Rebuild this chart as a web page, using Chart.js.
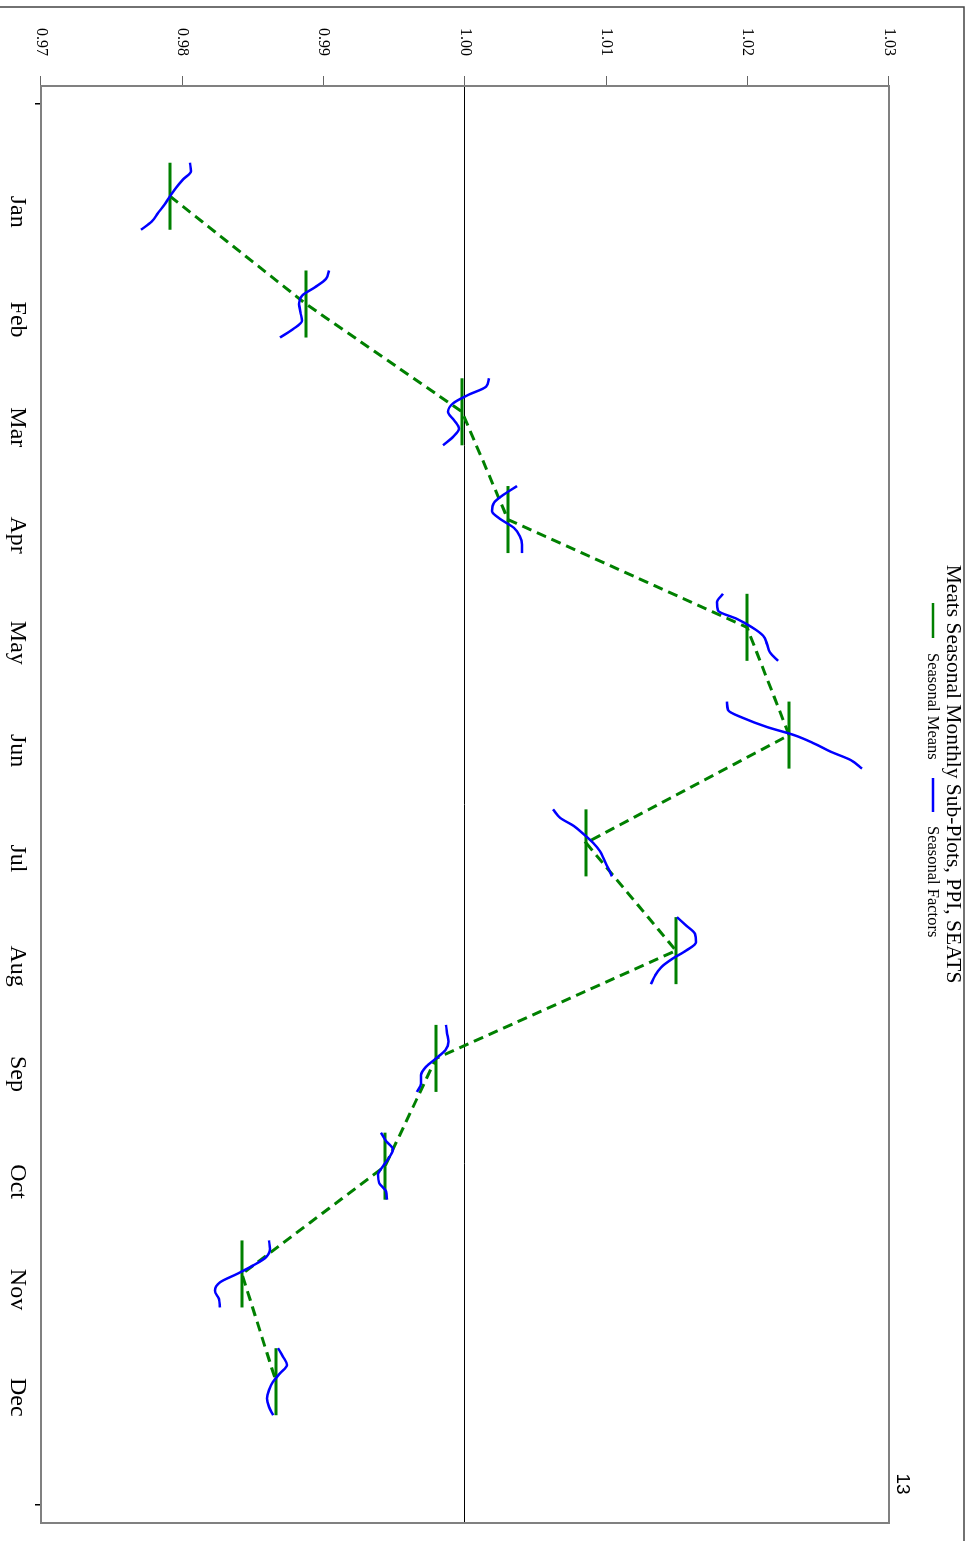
<!DOCTYPE html>
<html>
<head>
<meta charset="utf-8">
<script src="https://cdn.jsdelivr.net/npm/chart.js@4.4.1/dist/chart.umd.min.js"></script>
<style>
  html, body { margin: 0; padding: 0; background: #fff; overflow: hidden; }
  #page {
    position: absolute; left: 0; top: 0;
    width: 1541px; height: 976px;
    transform-origin: 0 0;
    transform: translateX(976px) rotate(90deg);
  }
</style>
</head>
<body>
<div id="page"><canvas id="chart" width="1541" height="976"></canvas></div>
<script>
// months and values
const months = ['Jan', 'Feb', 'Mar', 'Apr', 'May', 'Jun', 'Jul', 'Aug', 'Sep', 'Oct', 'Nov', 'Dec'];
const seasonalMeans = [0.97913, 0.98875, 0.99979, 1.00304, 1.01995, 1.02293, 1.00856, 1.01493, 0.99795, 0.99434, 0.98422, 0.98663];
const seasonalFactors = [
    [0.98054, 0.98061, 0.98005, 0.97955, 0.97913, 0.97874, 0.97828, 0.97785, 0.97708],
    [0.99038, 0.99017, 0.98939, 0.98847, 0.98826, 0.98836, 0.98847, 0.98783, 0.98691],
    [1.00170, 1.00149, 1.00021, 0.99915, 0.99880, 0.99922, 0.99958, 0.99915, 0.99844],
    [1.00368, 1.00276, 1.00205, 1.00191, 1.00255, 1.00347, 1.00389, 1.00403, 1.00403],
    [1.01826, 1.01783, 1.01790, 1.01925, 1.02031, 1.02109, 1.02137, 1.02158, 1.02215],
    [1.01854, 1.01861, 1.01974, 1.02130, 1.02328, 1.02470, 1.02590, 1.02731, 1.02809],
    [1.00623, 1.00672, 1.00771, 1.00842, 1.00906, 1.00955, 1.00984, 1.01012, 1.01040],
    [1.01500, 1.01564, 1.01627, 1.01634, 1.01564, 1.01465, 1.01387, 1.01344, 1.01316],
    [0.99866, 0.99873, 0.99883, 0.99862, 0.99795, 0.99724, 0.99689, 0.99689, 0.99660],
    [0.99406, 0.99441, 0.99491, 0.99462, 0.99420, 0.99385, 0.99392, 0.99441, 0.99448],
    [0.98613, 0.98620, 0.98592, 0.98500, 0.98387, 0.98267, 0.98231, 0.98259, 0.98267],
    [0.98677, 0.98712, 0.98741, 0.98691, 0.98642, 0.98613, 0.98599, 0.98613, 0.98642]
];
const yTicks = [0.97, 0.98, 0.99, 1.00, 1.01, 1.02, 1.03];
const xTicks = [0, 1, 2, 3, 4, 5, 6, 7, 8, 9, 10, 11, 12, 13];

// each month's sub-plot sits a little left of the month tick
const spanStart = -0.455;
const spanEnd = 0.167;
const spanMid = (spanStart + spanEnd) / 2;

const GREEN = '#008000';
const BLUE = '#0000ff';
const SERIF = '"Liberation Serif", "Times New Roman", serif';

const datasets = [];

// seasonal factor curves
seasonalFactors.forEach((vals, i) => {
    const m = i + 1;
    const n = vals.length;
    datasets.push({
        data: vals.map((v, k) => ({ x: m + spanStart + (spanEnd - spanStart) * k / (n - 1), y: v })),
        showLine: true,
        borderColor: BLUE,
        borderWidth: 2.5,
        pointRadius: 0,
        cubicInterpolationMode: 'monotone',
        order: 0
    });
});

// dashed line joining the means
datasets.push({
    data: seasonalMeans.map((v, i) => ({ x: i + 1 + spanMid, y: v })),
    showLine: true,
    borderColor: GREEN,
    borderWidth: 3,
    borderDash: [10, 6],
    pointRadius: 0,
    order: 1
});

// seasonal mean bars
seasonalMeans.forEach((v, i) => {
    const m = i + 1;
    datasets.push({
        data: [{ x: m + spanStart, y: v }, { x: m + spanEnd, y: v }],
        showLine: true,
        borderColor: GREEN,
        borderWidth: 3,
        pointRadius: 0,
        order: 2
    });
});

const decor = {
    id: 'decor',
    beforeDatasetsDraw(chart) {
        const { ctx, chartArea: a, scales: { y } } = chart;
        const y1 = Math.round(y.getPixelForValue(1)) + 0.5;
        ctx.save();
        ctx.strokeStyle = '#000';
        ctx.lineWidth = 1;
        ctx.beginPath();
        ctx.moveTo(a.left, y1);
        ctx.lineTo(a.right, y1);
        ctx.stroke();
        ctx.restore();
    },
    afterDraw(chart) {
        const { ctx, chartArea: a } = chart;
        ctx.save();
        // plot frame
        ctx.strokeStyle = '#808080';
        ctx.lineWidth = 2;
        ctx.strokeRect(a.left, a.top, a.right - a.left, a.bottom - a.top);
        // page border
        ctx.strokeStyle = '#444';
        ctx.lineWidth = 1.5;
        ctx.beginPath();
        ctx.moveTo(7, 976);
        ctx.lineTo(7, 12);
        ctx.lineTo(1541, 12);
        ctx.stroke();
        // title
        ctx.fillStyle = '#000';
        ctx.textAlign = 'center';
        ctx.textBaseline = 'alphabetic';
        ctx.font = '21.5px ' + SERIF;
        ctx.fillText('Meats Seasonal Monthly Sub-Plots, PPI, SEATS', 774, 29);
        // legend
        ctx.font = '16.5px ' + SERIF;
        ctx.textAlign = 'left';
        ctx.textBaseline = 'middle';
        ctx.lineWidth = 2.5;
        ctx.strokeStyle = GREEN;
        ctx.beginPath(); ctx.moveTo(603, 43); ctx.lineTo(638, 43); ctx.stroke();
        ctx.fillText('Seasonal Means', 653, 44);
        ctx.strokeStyle = BLUE;
        ctx.beginPath(); ctx.moveTo(778, 43); ctx.lineTo(812, 43); ctx.stroke();
        ctx.fillText('Seasonal Factors', 826, 44);
        // page number
        ctx.font = '19px "Liberation Sans", Arial, sans-serif';
        ctx.textAlign = 'center';
        ctx.fillText('13', 1484, 74);
        ctx.restore();
    }
};

new Chart(document.getElementById('chart'), {
    type: 'scatter',
    data: { datasets: datasets },
    options: {
        responsive: false,
        animation: false,
        layout: { padding: { top: 87, right: 18, left: 0, bottom: 0 } },
        plugins: { legend: { display: false }, tooltip: { enabled: false } },
        scales: {
            x: {
                type: 'linear',
                min: -0.167,
                max: 13.167,
                afterBuildTicks: s => { s.ticks = xTicks.map(v => ({ value: v })); },
                afterFit: s => { s.height = 41; },
                border: { display: false },
                grid: {
                    drawOnChartArea: false,
                    tickLength: 6,
                    lineWidth: 1.5,
                    color: c => (c.tick && (c.tick.value === 0 || c.tick.value === 13)) ? '#000' : 'rgba(0,0,0,0)'
                },
                ticks: {
                    autoSkip: false,
                    maxRotation: 0,
                    padding: 3,
                    color: '#000',
                    font: { family: SERIF, size: 24 },
                    callback: v => (v >= 1 && v <= 12) ? months[v - 1] : ''
                }
            },
            y: {
                min: 0.97,
                max: 1.03,
                afterBuildTicks: s => { s.ticks = yTicks.map(v => ({ value: v })); },
                afterFit: s => { s.width = 86; },
                border: { display: false },
                grid: { drawOnChartArea: false, tickLength: 10, color: '#666', lineWidth: 1 },
                ticks: {
                    padding: 20,
                    color: '#000',
                    font: { family: SERIF, size: 16 },
                    callback: v => v.toFixed(2)
                }
            }
        }
    },
    plugins: [decor]
});
</script>
</body>
</html>
